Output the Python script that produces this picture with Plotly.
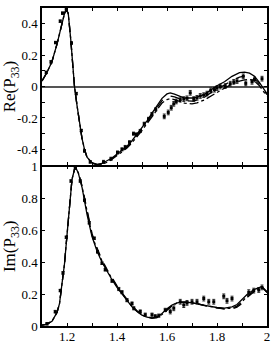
import plotly.graph_objects as go

# ---------------- data ----------------
# Re(P33) model curves
re_x = [1.10, 1.12, 1.14, 1.16, 1.18, 1.19, 1.197, 1.205, 1.215, 1.23, 1.24, 1.25, 1.26, 1.27, 1.28,
        1.30, 1.32, 1.34, 1.36, 1.38, 1.40, 1.42, 1.44, 1.46, 1.48, 1.50, 1.52, 1.54, 1.56, 1.58,
        1.60, 1.613, 1.63, 1.65, 1.67, 1.70, 1.72, 1.75, 1.78, 1.80, 1.83, 1.86, 1.89, 1.91, 1.93,
        1.95, 1.97, 1.99, 2.00]
re_solid = [0.035, 0.09, 0.16, 0.27, 0.40, 0.465, 0.49, 0.465, 0.30, 0.0, -0.12, -0.23, -0.33, -0.40, -0.45,
            -0.485, -0.495, -0.49, -0.475, -0.455, -0.43, -0.405, -0.38, -0.345, -0.305, -0.262, -0.218, -0.17, -0.12, -0.075,
            -0.047, -0.04, -0.048, -0.063, -0.073, -0.073, -0.068, -0.05, -0.015, 0.005, 0.03, 0.065, 0.088, 0.092, 0.085,
            0.065, 0.025, -0.02, -0.045]
re_dash = [0.035, 0.09, 0.16, 0.27, 0.40, 0.465, 0.49, 0.465, 0.30, 0.0, -0.12, -0.23, -0.33, -0.40, -0.45,
           -0.487, -0.497, -0.493, -0.48, -0.46, -0.437, -0.412, -0.387, -0.352, -0.312, -0.27, -0.226, -0.18, -0.132, -0.09,
           -0.066, -0.06, -0.066, -0.08, -0.09, -0.093, -0.086, -0.066, -0.034, -0.015, 0.01, 0.04, 0.06, 0.066, 0.066,
           0.05, 0.015, -0.03, -0.052]
re_dashdot = [0.035, 0.09, 0.16, 0.27, 0.40, 0.465, 0.49, 0.465, 0.30, 0.0, -0.12, -0.23, -0.33, -0.40, -0.45,
              -0.487, -0.497, -0.495, -0.482, -0.463, -0.44, -0.416, -0.392, -0.358, -0.32, -0.28, -0.236, -0.19, -0.145, -0.105,
              -0.083, -0.078, -0.083, -0.096, -0.106, -0.11, -0.104, -0.085, -0.055, -0.035, -0.01, 0.015, 0.035, 0.042, 0.045,
              0.035, 0.005, -0.04, -0.06]

# Re(P33) data points
re_pts_x = [1.117, 1.136, 1.154, 1.173, 1.182, 1.197, 1.218, 1.237, 1.257, 1.270, 1.293, 1.346, 1.376, 1.402,
            1.420, 1.433, 1.450, 1.466, 1.478, 1.493, 1.509, 1.526, 1.540, 1.555, 1.589, 1.605, 1.617, 1.627,
            1.637, 1.653, 1.667, 1.680, 1.693, 1.707, 1.720, 1.733, 1.747, 1.760, 1.775, 1.790, 1.800, 1.813,
            1.833, 1.853, 1.867, 1.880, 1.905, 1.915, 1.940, 1.950, 1.980]
re_pts_y = [0.09, 0.157, 0.28, 0.416, 0.467, 0.495, 0.277, -0.045, -0.28, -0.41, -0.48, -0.48, -0.46, -0.42,
            -0.40, -0.385, -0.355, -0.30, -0.305, -0.283, -0.237, -0.206, -0.175, -0.145, -0.19, -0.165, -0.135, -0.11,
            -0.095, -0.083, -0.08, -0.075, -0.04, -0.08, -0.072, -0.06, -0.055, -0.045, -0.025, -0.02, -0.01, 0.0,
            0.003, 0.018, 0.03, 0.035, 0.065, 0.02, 0.03, 0.045, 0.05]
re_pts_err = [0.008] * 11 + [0.01] * 13 + [0.015] * 27

# Im(P33) model curves
im_x = [1.10, 1.12, 1.14, 1.16, 1.17, 1.18, 1.19, 1.20, 1.21, 1.22, 1.233, 1.245, 1.26, 1.28, 1.30,
        1.32, 1.34, 1.36, 1.38, 1.40, 1.42, 1.44, 1.46, 1.48, 1.50, 1.52, 1.54, 1.56, 1.58, 1.60,
        1.62, 1.64, 1.66, 1.68, 1.70, 1.72, 1.75, 1.78, 1.80, 1.83, 1.86, 1.88, 1.90, 1.92, 1.95,
        1.98, 2.00]
im_solid = [0.005, 0.012, 0.03, 0.085, 0.14, 0.25, 0.39, 0.57, 0.77, 0.92, 1.0, 0.96, 0.87, 0.70, 0.56,
            0.47, 0.40, 0.34, 0.29, 0.242, 0.20, 0.16, 0.12, 0.091, 0.068, 0.055, 0.05, 0.058, 0.078, 0.108,
            0.132, 0.145, 0.15, 0.15, 0.146, 0.14, 0.13, 0.121, 0.116, 0.112, 0.12, 0.135, 0.165, 0.198, 0.23,
            0.248, 0.21]
im_dash = [0.005, 0.012, 0.03, 0.085, 0.14, 0.25, 0.39, 0.57, 0.77, 0.92, 1.0, 0.965, 0.88, 0.72, 0.58,
           0.49, 0.415, 0.355, 0.30, 0.252, 0.208, 0.167, 0.127, 0.096, 0.072, 0.057, 0.05, 0.052, 0.068, 0.098,
           0.126, 0.142, 0.148, 0.149, 0.146, 0.139, 0.128, 0.118, 0.112, 0.106, 0.108, 0.118, 0.142, 0.178, 0.218,
           0.242, 0.215]
im_dashdot = [0.005, 0.012, 0.03, 0.085, 0.14, 0.25, 0.39, 0.57, 0.77, 0.92, 1.0, 0.962, 0.875, 0.71, 0.57,
              0.48, 0.407, 0.348, 0.295, 0.247, 0.204, 0.163, 0.123, 0.093, 0.07, 0.056, 0.05, 0.055, 0.072, 0.102,
              0.129, 0.143, 0.149, 0.15, 0.146, 0.14, 0.13, 0.12, 0.114, 0.109, 0.112, 0.125, 0.152, 0.186, 0.223,
              0.245, 0.212]

# Im(P33) data points
im_pts_x = [1.12, 1.153, 1.173, 1.184, 1.197, 1.216, 1.233, 1.253, 1.27, 1.289, 1.309, 1.322, 1.34, 1.353,
            1.38, 1.407, 1.42, 1.44, 1.46, 1.467, 1.493, 1.513, 1.54, 1.553, 1.567, 1.593, 1.613, 1.627,
            1.653, 1.667, 1.68, 1.70, 1.72, 1.747, 1.767, 1.787, 1.827, 1.84, 1.86, 1.927, 1.947, 1.967, 1.98]
im_pts_y = [0.014, 0.09, 0.222, 0.333, 0.556, 0.909, 0.99, 0.909, 0.788, 0.647, 0.55, 0.465, 0.394, 0.353,
            0.283, 0.232, 0.212, 0.162, 0.141, 0.111, 0.091, 0.071, 0.071, 0.061, 0.065, 0.101, 0.091, 0.111,
            0.152, 0.131, 0.145, 0.152, 0.152, 0.172, 0.152, 0.152, 0.186, 0.158, 0.172, 0.212, 0.222, 0.226, 0.242]
im_pts_err = [0.008] * 14 + [0.01] * 12 + [0.015] * 17

x_tickvals = [1.2, 1.4, 1.6, 1.8, 2.0]
x_ticktext = ["1.2", "1.4", "1.6", "1.8", "2"]
re_tickvals = [-0.4, -0.2, 0, 0.2, 0.4]
re_ticktext = ["-0.4", "-0.2", "0", "0.2", "0.4"]
im_tickvals = [0, 0.2, 0.4, 0.6, 0.8, 1.0]
im_ticktext = ["0", "0.2", "0.4", "0.6", "0.8", "1"]

# ---------------- figure ----------------
fig = go.Figure()
line_styles = [("solid", re_solid, im_solid), ("dash", re_dash, im_dash), ("dashdot", re_dashdot, im_dashdot)]
for dash, rv, iv in line_styles:
    fig.add_trace(go.Scatter(x=re_x, y=rv, mode="lines", line=dict(color="black", width=1.3, dash=dash),
                             xaxis="x", yaxis="y", showlegend=False))
    fig.add_trace(go.Scatter(x=im_x, y=iv, mode="lines", line=dict(color="black", width=1.3, dash=dash),
                             xaxis="x2", yaxis="y2", showlegend=False))

marker = dict(symbol="square", size=3, color="black")
err = dict(type="data", thickness=0.8, width=1.5, color="black")
fig.add_trace(go.Scatter(x=re_pts_x, y=re_pts_y, mode="markers", marker=marker,
                         error_y=dict(array=re_pts_err, **err), xaxis="x", yaxis="y", showlegend=False))
fig.add_trace(go.Scatter(x=im_pts_x, y=im_pts_y, mode="markers", marker=marker,
                         error_y=dict(array=im_pts_err, **err), xaxis="x2", yaxis="y2", showlegend=False))

font_family = "Liberation Serif, Times New Roman, serif"
common_axis = dict(showline=True, linecolor="black", linewidth=1.5, mirror="allticks",
                   ticks="inside", ticklen=3, tickwidth=1, tickcolor="black", showgrid=False)

bottom_top = 165 / 329      # bottom panel upper edge
top_bottom = 166.5 / 329    # top panel lower edge (borders overlap)
fig.update_layout(
    width=273, height=345,
    margin=dict(l=42, r=6, t=1, b=15),
    paper_bgcolor="white", plot_bgcolor="white",
    font=dict(family=font_family, size=13, color="black"),
    xaxis=dict(range=[1.1, 2.0], anchor="y", tickvals=x_tickvals, showticklabels=False,
               minor=dict(dtick=0.1, tick0=1.1, ticks="inside", ticklen=3, tickcolor="black"),
               zeroline=False, **common_axis),
    yaxis=dict(range=[-0.5, 0.5], domain=[top_bottom, 1], anchor="x", tickvals=re_tickvals, ticktext=re_ticktext,
               minor=dict(dtick=0.1, tick0=-0.5, ticks="inside", ticklen=3, tickcolor="black"),
               zeroline=True, zerolinecolor="#555555", zerolinewidth=1.5,
               title=dict(text="Re(P<sub>33</sub>)", font=dict(size=17), standoff=2), **common_axis),
    xaxis2=dict(range=[1.1, 2.0], anchor="y2", tickvals=x_tickvals, ticktext=x_ticktext,
                ticklabelstandoff=-2,
                minor=dict(dtick=0.1, tick0=1.1, ticks="inside", ticklen=3, tickcolor="black"),
                zeroline=False, **common_axis),
    yaxis2=dict(range=[0, 1], domain=[0, bottom_top], anchor="x2", tickvals=im_tickvals, ticktext=im_ticktext,
                zeroline=False,
                title=dict(text="Im(P<sub>33</sub>)", font=dict(size=17), standoff=2), **common_axis),
)

fig.write_html("out.html", config={"displayModeBar": False},
               post_script="document.body.style.margin='0';document.body.style.padding='0';")
